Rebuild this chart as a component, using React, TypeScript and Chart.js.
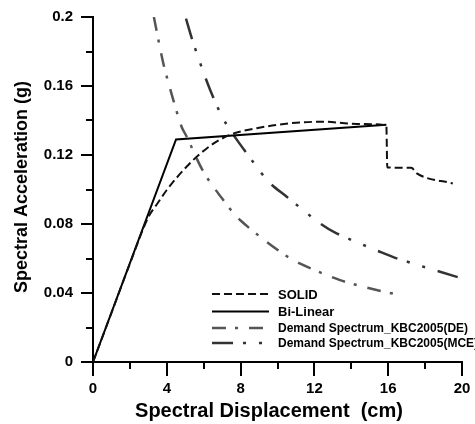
import React, { useEffect, useRef } from "react";
import { Chart, registerables } from "chart.js";

Chart.register(...registerables);

// ---- Data ----
const SOLID_X = [0, 1, 2, 3, 3.5, 4, 5.07, 6.16, 7.4, 8.87, 10.68, 12.48, 14.29, 15.9, 15.95, 17.25, 17.55, 19.5];
const SOLID_Y = [0, 0.0285, 0.057, 0.084, 0.092, 0.0997, 0.1132, 0.1238, 0.1316, 0.1355, 0.1384, 0.1393, 0.138, 0.1372, 0.1128, 0.1126, 0.1094, 0.1035];

const BILINEAR_X = [0, 4.5, 15.9];
const BILINEAR_Y = [0, 0.129, 0.1375];

const DE_X = [3.3, 3.81, 4.35, 4.8, 5.08, 6.0, 7.06, 7.97, 10.14, 11.2, 13.39, 15.37, 16.64];
const DE_Y = [0.2, 0.1732, 0.152, 0.1364, 0.1306, 0.11, 0.0939, 0.0823, 0.0639, 0.0572, 0.0475, 0.0417, 0.0388];

const MCE_X = [5.04, 5.44, 6.34, 7.2, 8.87, 9.6, 10.5, 12.3, 13.2, 15.55, 16.46, 19.8, 20];
const MCE_Y = [0.199, 0.1848, 0.158, 0.1384, 0.1132, 0.1036, 0.0958, 0.0804, 0.0746, 0.0639, 0.0601, 0.0491, 0.0487];

const SERIES_LABELS = [
  "SOLID",
  "Bi-Linear",
  "Demand Spectrum_KBC2005(DE)",
  "Demand Spectrum_KBC2005(MCE)",
];

const X_TICKS = [0, 4, 8, 12, 16, 20];
const X_MINOR_TICKS = [2, 6, 10, 14, 18];
const Y_TICKS = [0, 0.04, 0.08, 0.12, 0.16, 0.2];
const Y_MINOR_TICKS = [0.02, 0.06, 0.1, 0.14, 0.18];

const X_TITLE = "Spectral Displacement  (cm)";
const Y_TITLE = "Spectral Acceleration (g)";

const FONT = '"Liberation Sans", Arial, sans-serif';

const toPoints = (xs: number[], ys: number[]) => xs.map((x, i) => ({ x, y: ys[i] }));

const overlayPlugin = {
  id: "overlay",
  afterDraw(chart: any) {
    const ctx = chart.ctx as CanvasRenderingContext2D;
    const { left, top, bottom } = chart.chartArea;
    const xs = chart.scales.x;
    const ys = chart.scales.y;
    ctx.save();
    ctx.strokeStyle = "#000";
    ctx.lineWidth = 2;
    ctx.setLineDash([]);
    // minor ticks
    X_MINOR_TICKS.forEach((v) => {
      const px = Math.round(xs.getPixelForValue(v));
      ctx.beginPath();
      ctx.moveTo(px, bottom);
      ctx.lineTo(px, bottom + 7);
      ctx.stroke();
    });
    Y_MINOR_TICKS.forEach((v) => {
      const py = Math.round(ys.getPixelForValue(v));
      ctx.beginPath();
      ctx.moveTo(left - 7, py);
      ctx.lineTo(left, py);
      ctx.stroke();
    });

    // axis titles
    ctx.fillStyle = "#000";
    ctx.font = `bold 20px ${FONT}`;
    ctx.textAlign = "center";
    ctx.textBaseline = "alphabetic";
    ctx.fillText(X_TITLE, left + 176, bottom + 55);

    ctx.save();
    ctx.translate(22, top + 170);
    ctx.rotate(-Math.PI / 2);
    ctx.font = `bold 18px ${FONT}`;
    ctx.textBaseline = "middle";
    ctx.fillText(Y_TITLE, 0, 0);
    ctx.restore();

    // legend
    const rowYs = [bottom - 68, bottom - 50.5, bottom - 34, bottom - 19];
    const sx0 = left + 119;
    const sx1 = left + 176;
    const tx = left + 185;
    chart.data.datasets.forEach((ds: any, i: number) => {
      const y = rowYs[i];
      ctx.save();
      ctx.strokeStyle = ds.borderColor;
      ctx.lineWidth = ds.borderWidth;
      ctx.setLineDash(ds.borderDash || []);
      ctx.beginPath();
      ctx.moveTo(sx0, y);
      ctx.lineTo(sx1, y);
      ctx.stroke();
      ctx.restore();
      ctx.fillStyle = "#000";
      ctx.font = `bold ${i < 2 ? 13 : 12}px ${FONT}`;
      ctx.textAlign = "left";
      ctx.textBaseline = "middle";
      ctx.fillText(ds.label, tx, y + 1);
    });
    ctx.restore();
  },
};

export default function App() {
  const canvasRef = useRef<HTMLCanvasElement | null>(null);

  useEffect(() => {
    const canvas = canvasRef.current;
    if (!canvas) return;
    const tickFont = { family: FONT, size: 15, weight: "bold" as const };
    const chart = new Chart(canvas, {
      type: "scatter",
      data: {
        datasets: [
          {
            label: SERIES_LABELS[0],
            data: toPoints(SOLID_X, SOLID_Y),
            showLine: true,
            borderColor: "#111",
            borderWidth: 2,
            borderDash: [8, 4],
            pointRadius: 0,
            cubicInterpolationMode: "monotone",
          },
          {
            label: SERIES_LABELS[1],
            data: toPoints(BILINEAR_X, BILINEAR_Y),
            showLine: true,
            borderColor: "#000",
            borderWidth: 2,
            borderDash: [],
            pointRadius: 0,
          },
          {
            label: SERIES_LABELS[2],
            data: toPoints(DE_X, DE_Y),
            showLine: true,
            borderColor: "#555",
            borderWidth: 2.5,
            borderDash: [14, 9, 3, 11],
            pointRadius: 0,
            tension: 0.3,
          },
          {
            label: SERIES_LABELS[3],
            data: toPoints(MCE_X, MCE_Y),
            showLine: true,
            borderColor: "#333",
            borderWidth: 2.5,
            borderDash: [21, 10, 3, 13, 3, 13],
            pointRadius: 0,
            tension: 0.3,
          },
        ],
      },
      options: {
        responsive: false,
        animation: false,
        devicePixelRatio: 1,
        layout: { padding: { top: 17, right: 13, left: 0, bottom: 0 } },
        plugins: { legend: { display: false }, tooltip: { enabled: false } },
        scales: {
          x: {
            type: "linear",
            min: 0,
            max: 20,
            afterBuildTicks: (s: any) => {
              s.ticks = X_TICKS.map((v) => ({ value: v }));
            },
            afterFit: (s: any) => {
              s.height = 62;
            },
            grid: { drawOnChartArea: false, drawTicks: true, tickLength: 14, color: "#000", lineWidth: 2 },
            border: { display: true, color: "#000", width: 2 },
            ticks: {
              color: "#000",
              font: tickFont,
              padding: 4,
              maxRotation: 0,
              autoSkip: false,
              callback: (v: any) => String(v),
            },
          },
          y: {
            type: "linear",
            min: 0,
            max: 0.2,
            afterBuildTicks: (s: any) => {
              s.ticks = Y_TICKS.map((v) => ({ value: v }));
            },
            afterFit: (s: any) => {
              s.width = 93;
            },
            grid: { drawOnChartArea: false, drawTicks: true, tickLength: 12, color: "#000", lineWidth: 2 },
            border: { display: true, color: "#000", width: 2 },
            ticks: {
              color: "#000",
              font: tickFont,
              padding: 8,
              autoSkip: false,
              callback: (v: any) => String(parseFloat(Number(v).toFixed(2))),
            },
          },
        },
      },
      plugins: [overlayPlugin],
    });
    return () => chart.destroy();
  }, []);

  return (
    <div style={{ position: "fixed", left: 0, top: 0, width: 475, height: 424, background: "#fff" }}>
      <canvas ref={canvasRef} width={475} height={424} style={{ display: "block" }} />
    </div>
  );
}
